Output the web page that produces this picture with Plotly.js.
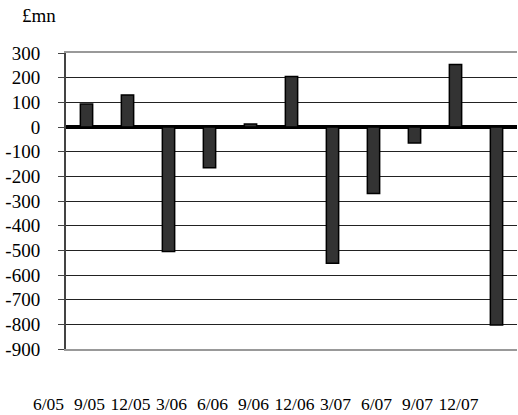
<!DOCTYPE html>
<html>
<head>
<meta charset="utf-8">
<script src="https://cdn.plot.ly/plotly-3.0.1.min.js"></script>
<style>html,body{margin:0;padding:0;background:#fff;}#chart{width:518px;height:415px;}</style>
</head>
<body>
<div id="chart"></div>
<script>
var quarters = ["6/05","9/05","12/05","3/06","6/06","9/06","12/06","3/07","6/07","9/07","12/07"];
var values = [93, 130, -505, -165, 12, 205, -552, -270, -65, 253, -803];
var yTicks = [300,200,100,0,-100,-200,-300,-400,-500,-600,-700,-800,-900];

var SERIF = "Liberation Serif";

var trace = {
  type: "bar",
  x: quarters,
  y: values,
  width: 0.3,
  marker: {color: "#333333", line: {color: "#000000", width: 1.5}},
  hoverinfo: "x+y"
};

var layout = {
  width: 518, height: 415,
  margin: {l: 66, r: 1, t: 53, b: 66},
  paper_bgcolor: "#ffffff", plot_bgcolor: "#ffffff",
  showlegend: false,
  font: {family: SERIF, size: 17, color: "#000"},
  xaxis: {
    type: "category",
    range: [-0.5, 10.5],
    showgrid: false,
    showline: true, linecolor: "#999999", linewidth: 2, mirror: true,
    ticks: "", ticklabelshift: -38, ticklabelstandoff: 38,
    tickfont: {family: SERIF, size: 17.5, color: "#000"}
  },
  yaxis: {
    range: [-900, 300],
    tickvals: yTicks,
    ticktext: yTicks.map(String),
    showgrid: true, gridcolor: "#222222", gridwidth: 1,
    zeroline: true, zerolinecolor: "#000000", zerolinewidth: 4,
    showline: true, linecolor: "#444444", linewidth: 2,
    ticks: "outside", ticklen: 6, tickcolor: "#444444", tickwidth: 1,
    ticklabelstandoff: 14,
    tickfont: {family: SERIF, size: 19, color: "#000"}
  },
  annotations: [{
    text: "£mn", xref: "paper", yref: "paper", x: -0.102, y: 1.0,
    xanchor: "left", yanchor: "bottom", yshift: 25, showarrow: false,
    font: {family: SERIF, size: 19, color: "#000"}
  }]
};

Plotly.newPlot("chart", [trace], layout, {displayModeBar: false, staticPlot: true});
</script>
</body>
</html>
